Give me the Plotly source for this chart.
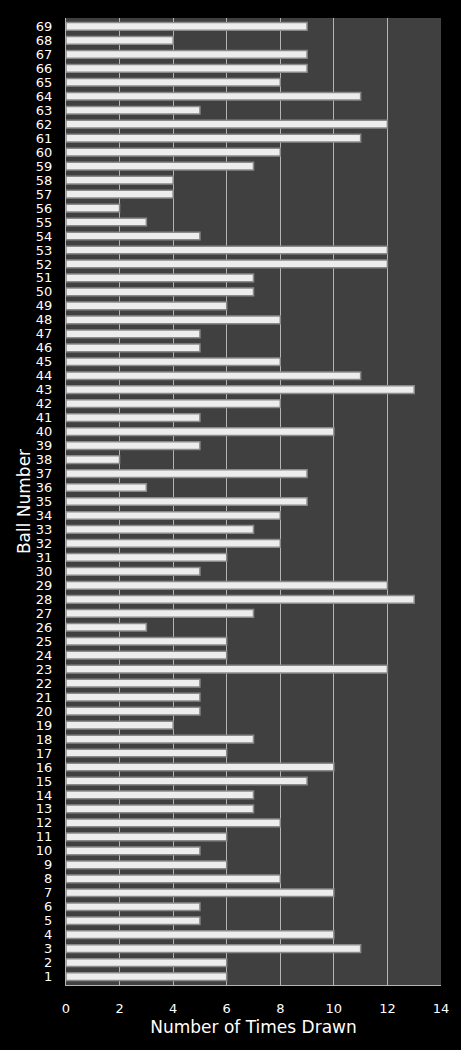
import plotly.graph_objects as go

# times each ball number was drawn
balls = list(range(1, 70))
times_drawn = [
    6, 6, 11, 10, 5, 5, 10, 8, 6, 5,      # 1-10
    6, 8, 7, 7, 9, 10, 6, 7, 4, 5,        # 11-20
    5, 5, 12, 6, 6, 3, 7, 13, 12, 5,      # 21-30
    6, 8, 7, 8, 9, 3, 9, 2, 5, 10,        # 31-40
    5, 8, 13, 11, 8, 5, 5, 8, 6, 7,       # 41-50
    7, 12, 12, 5, 3, 2, 4, 4, 7, 8,       # 51-60
    11, 12, 5, 11, 8, 9, 9, 4, 9,         # 61-69
]
x_ticks = list(range(0, 15, 2))

fig = go.Figure(go.Bar(
    x=times_drawn,
    y=balls,
    orientation="h",
    marker=dict(color="#ededed", line=dict(color="#8a8a8a", width=1.5)),
    hoverinfo="x+y",
))

fig.update_layout(
    width=461, height=1050,
    margin=dict(l=66, r=20, t=18, b=65),
    paper_bgcolor="black",
    plot_bgcolor="#404040",
    bargap=0.45,
    font=dict(family="DejaVu Sans", color="white", size=13),
    showlegend=False,
    xaxis=dict(
        range=[0, 14], tickvals=x_ticks,
        showgrid=True, gridcolor="#b4b4b4", gridwidth=1,
        zeroline=False,
        showline=True, linecolor="#b4b4b4", linewidth=1,
        ticks="outside", ticklen=11, tickcolor="rgba(0,0,0,0)",
        tickfont=dict(size=13),
        title=dict(text="Number of Times Drawn", font=dict(size=17), standoff=6),
        fixedrange=True,
    ),
    yaxis=dict(
        range=[0.4, 69.6], tickmode="array", tickvals=balls,
        showgrid=False, zeroline=False,
        showline=True, linecolor="#b4b4b4", linewidth=1,
        ticks="outside", ticklen=10, tickcolor="rgba(0,0,0,0)",
        tickfont=dict(size=13),
        title=dict(text="Ball Number", font=dict(size=17), standoff=0),
        fixedrange=True,
    ),
)

# drop the browser's default white body margin so the black fills the window
fig.write_html(
    "out.html",
    config={"displayModeBar": False},
    post_script="document.body.style.margin='0';document.body.style.background='black';",
)
